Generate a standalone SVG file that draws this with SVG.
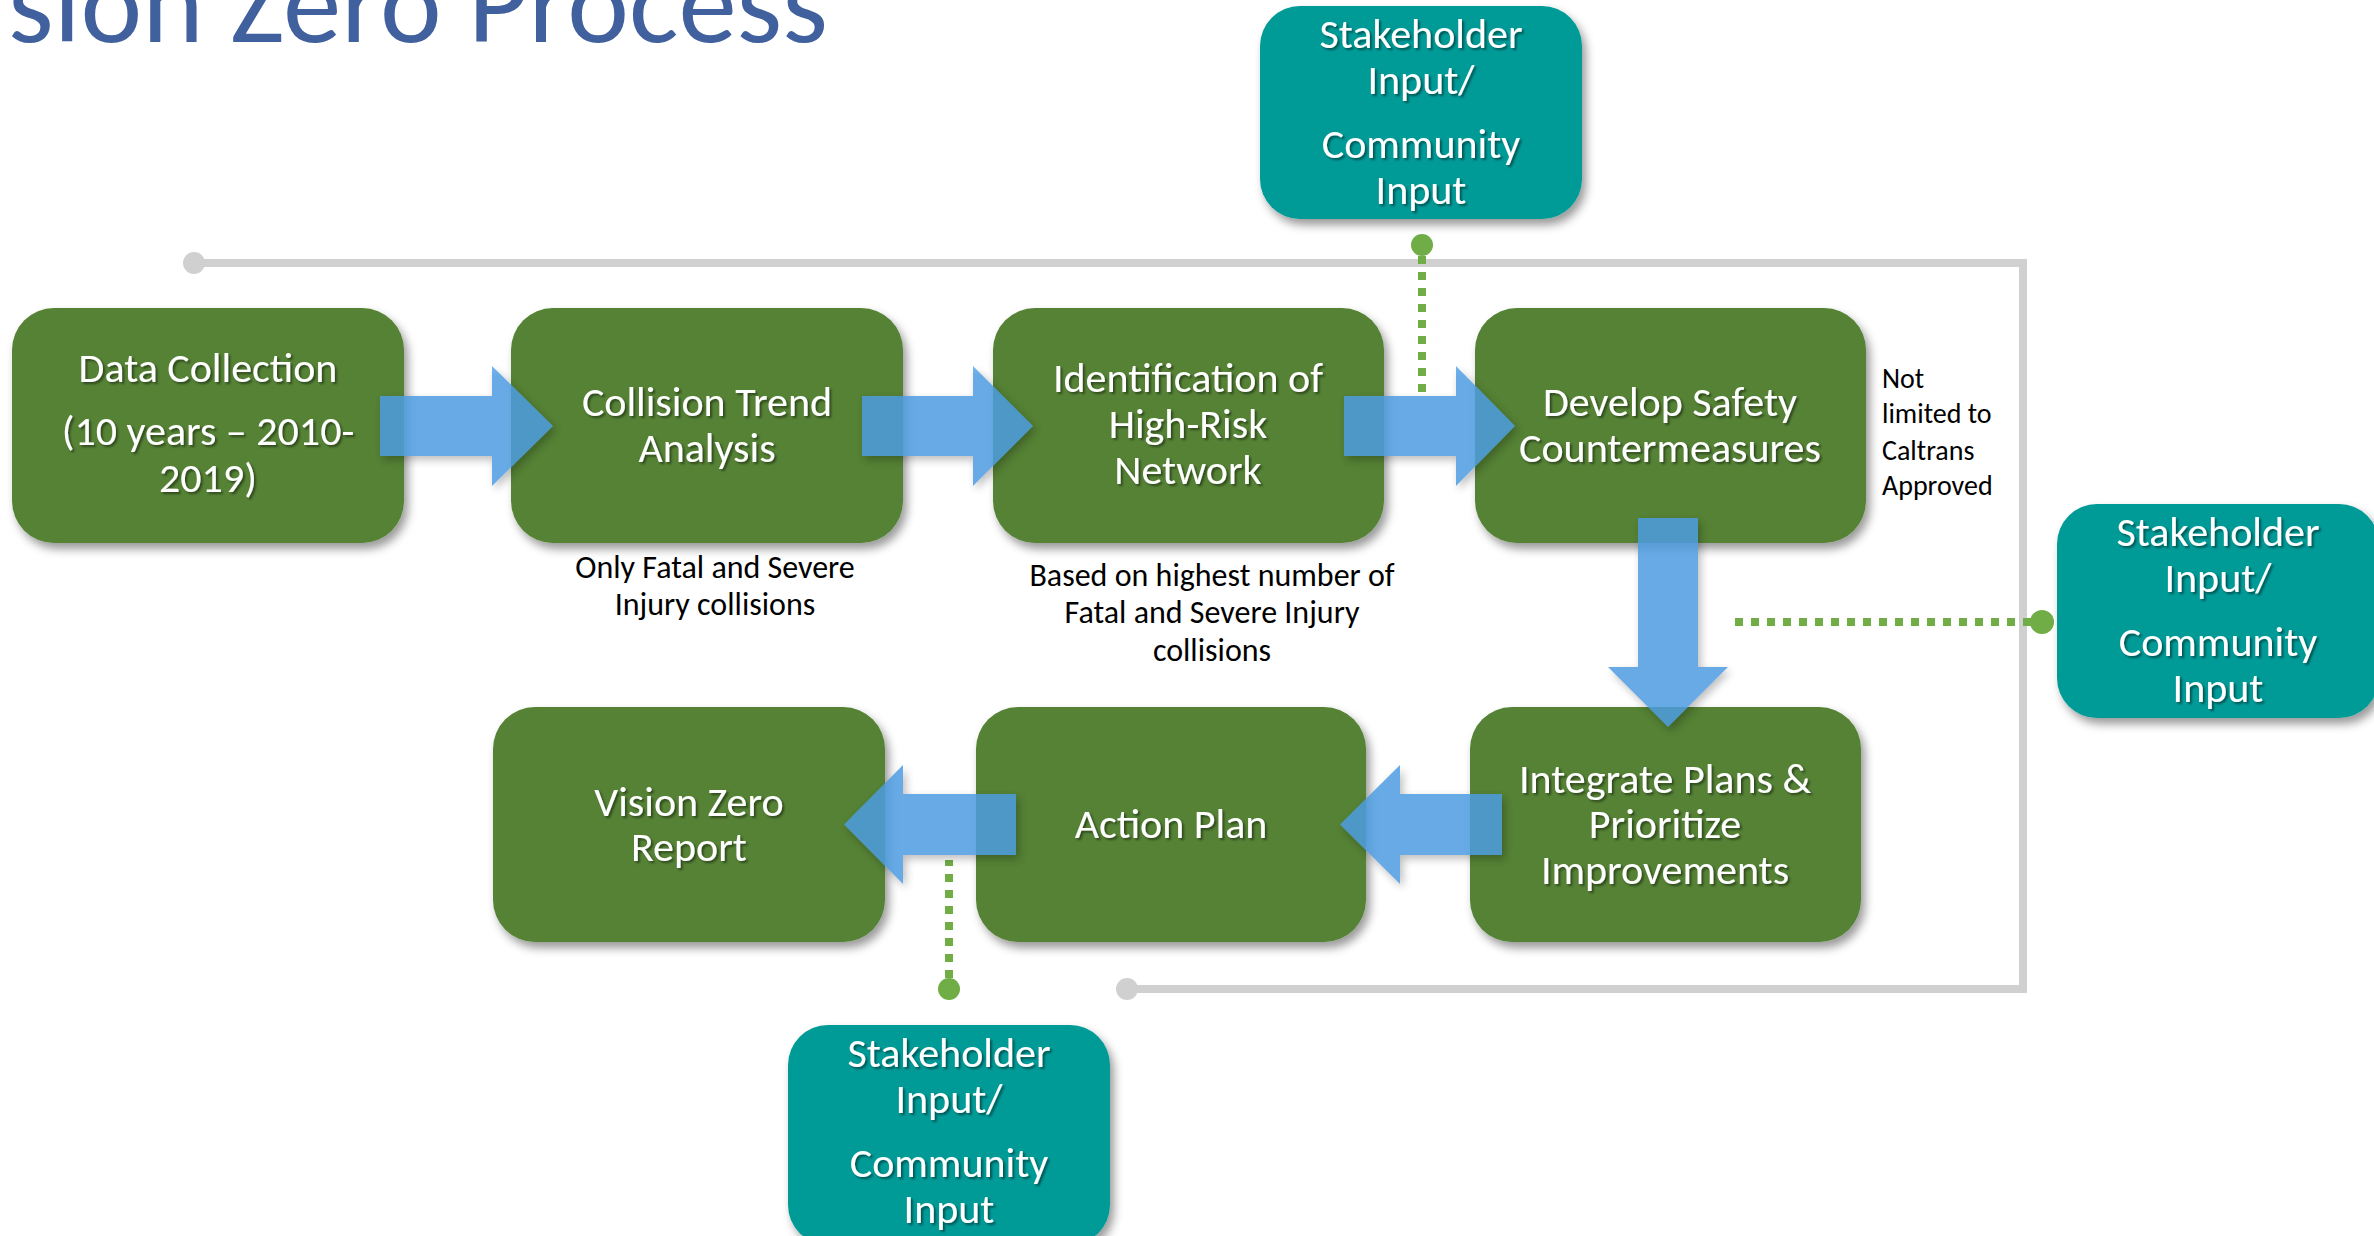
<svg xmlns="http://www.w3.org/2000/svg" width="2374" height="1236" viewBox="0 0 2374 1236">
<defs>
<filter id="sh" x="-10%" y="-10%" width="125%" height="130%">
<feDropShadow dx="4" dy="6" stdDeviation="5" flood-color="#000" flood-opacity="0.4"/>
</filter>
<filter id="ash" x="-10%" y="-10%" width="125%" height="130%">
<feDropShadow dx="3" dy="4" stdDeviation="4" flood-color="#000" flood-opacity="0.3"/>
</filter>
<filter id="ts" x="-5%" y="-20%" width="110%" height="150%">
<feDropShadow dx="2" dy="2" stdDeviation="1.2" flood-color="#000" flood-opacity="0.45"/>
</filter>
<linearGradient id="ag" x1="0" y1="0" x2="0" y2="1">
<stop offset="0" stop-color="#63A9EB"/>
<stop offset="0.08" stop-color="#4E9CE1"/>
<stop offset="1" stop-color="#4E9CE1"/>
</linearGradient>
<style>
text{font-family:Carlito,"Liberation Sans Narrow","Liberation Sans",sans-serif}
.box{fill:#548235;filter:url(#sh)}
.teal{fill:#009A97;filter:url(#sh)}
.bt{font-size:42px;fill:#fff;text-anchor:middle;filter:url(#ts)}
.cap{font-size:32px;fill:#000;text-anchor:middle}
.note{font-size:28px;fill:#000}
.arrow{fill:#4E9CE1}
.gray{stroke:#D0D0D0;stroke-width:8;fill:none}
.gdot{stroke:#70AD47;stroke-width:8;stroke-dasharray:8 8;fill:none}
</style>
</defs>
<rect width="2374" height="1236" fill="#fff"/>
<text x="8" y="42" font-size="116" fill="#41609E" textLength="820" lengthAdjust="spacingAndGlyphs">sion Zero Process</text>

<g id="connectors">
<path class="gray" d="M194 263 H2023 V989 H1127"/>
<circle cx="194" cy="263" r="11" fill="#D0D0D0"/>
<circle cx="1127" cy="989" r="11" fill="#D0D0D0"/>
<path class="gdot" d="M1422 256 V392"/>
<circle cx="1422" cy="245" r="11" fill="#70AD47"/>
<path class="gdot" d="M2031 622 H1728"/>
<circle cx="2042" cy="622" r="12" fill="#70AD47"/>
<path class="gdot" d="M949 978 V860"/>
<circle cx="949" cy="989" r="11" fill="#70AD47"/>
</g>

<g id="n1"><rect class="box" x="12" y="308" width="392" height="235" rx="42"/>
<text class="bt" x="208" y="382">Data Collection</text>
<text class="bt" x="208" y="445">(10 years – 2010-</text>
<text class="bt" x="208" y="492">2019)</text></g>

<g id="n2"><rect class="box" x="511" y="308" width="392" height="235" rx="42"/>
<text class="bt" x="707" y="416">Collision Trend</text>
<text class="bt" x="707" y="462">Analysis</text></g>

<g id="n3"><rect class="box" x="993" y="308" width="391" height="235" rx="42"/>
<text class="bt" x="1188" y="392">Identification of</text>
<text class="bt" x="1188" y="438">High-Risk</text>
<text class="bt" x="1188" y="484">Network</text></g>

<g id="n4"><rect class="box" x="1475" y="308" width="391" height="235" rx="42"/>
<text class="bt" x="1670" y="416">Develop Safety</text>
<text class="bt" x="1670" y="462">Countermeasures</text></g>

<g id="n5"><rect class="box" x="1470" y="707" width="391" height="235" rx="42"/>
<text class="bt" x="1665" y="793">Integrate Plans &amp;</text>
<text class="bt" x="1665" y="838">Prioritize</text>
<text class="bt" x="1665" y="884">Improvements</text></g>

<g id="n6"><rect class="box" x="976" y="707" width="390" height="235" rx="42"/>
<text class="bt" x="1171" y="838">Action Plan</text></g>

<g id="n7"><rect class="box" x="493" y="707" width="392" height="235" rx="42"/>
<text class="bt" x="689" y="816">Vision Zero</text>
<text class="bt" x="689" y="861">Report</text></g>

<g id="t1"><rect class="teal" x="1260" y="6" width="322" height="213" rx="40"/>
<text class="bt" x="1421" y="48">Stakeholder</text>
<text class="bt" x="1421" y="94">Input/</text>
<text class="bt" x="1421" y="158">Community</text>
<text class="bt" x="1421" y="204">Input</text></g>

<g id="t2"><rect class="teal" x="2057" y="504" width="322" height="214" rx="40"/>
<text class="bt" x="2218" y="546">Stakeholder</text>
<text class="bt" x="2218" y="592">Input/</text>
<text class="bt" x="2218" y="656">Community</text>
<text class="bt" x="2218" y="702">Input</text></g>

<g id="t3"><rect class="teal" x="788" y="1025" width="322" height="220" rx="40"/>
<text class="bt" x="949" y="1067">Stakeholder</text>
<text class="bt" x="949" y="1113">Input/</text>
<text class="bt" x="949" y="1177">Community</text>
<text class="bt" x="949" y="1223">Input</text></g>

<g id="arrows" opacity="0.85">
<g filter="url(#ash)">
<path class="arrow" fill="url(#ag)" style="fill:url(#ag)" d="M380 396 H492 V366 L553 426 L492 486 V456 H380 Z"/>
<path class="arrow" style="fill:url(#ag)" d="M862 396 H973 V366 L1033 426 L973 486 V456 H862 Z"/>
<path class="arrow" style="fill:url(#ag)" d="M1344 396 H1456 V366 L1515 426 L1456 486 V456 H1344 Z"/>
<path class="arrow" d="M1638 518 H1698 V667 H1728 L1668 727 L1608 667 H1638 Z"/>
<path class="arrow" d="M1502 794 H1400 V765 L1340 824.5 L1400 884 V855 H1502 Z"/>
<path class="arrow" d="M1016 794 H903 V765 L844 824.5 L903 884 V855 H1016 Z"/>
</g>
</g>

<g id="labels">
<text class="cap" x="715" y="578">Only Fatal and Severe</text>
<text class="cap" x="715" y="615">Injury collisions</text>
<text class="cap" x="1212" y="586">Based on highest number of</text>
<text class="cap" x="1212" y="623">Fatal and Severe Injury</text>
<text class="cap" x="1212" y="661">collisions</text>
<text class="note" x="1882" y="388">Not</text>
<text class="note" x="1882" y="423">limited to</text>
<text class="note" x="1882" y="460">Caltrans</text>
<text class="note" x="1882" y="495">Approved</text>
</g>
</svg>
